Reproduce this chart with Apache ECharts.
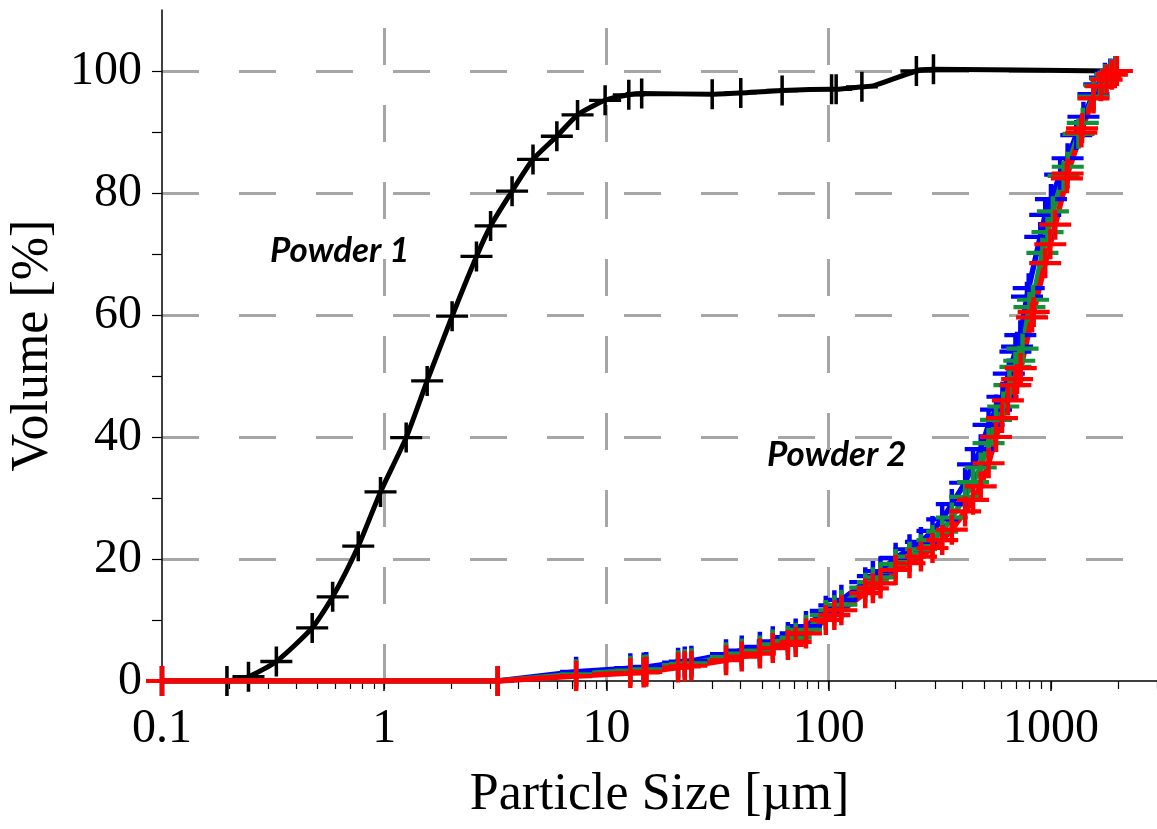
<!DOCTYPE html>
<html>
<head>
<meta charset="utf-8">
<script src="https://cdn.jsdelivr.net/npm/echarts@6/dist/echarts.min.js"></script>
<style>html,body{margin:0;padding:0;background:#fff}#c{width:1157px;height:829px}</style>
</head>
<body>
<div id="c"></div>
<script>
// ---- data (particle size in µm, cumulative volume in %) ----
const p1Size = [0.196,0.245,0.327,0.474,0.586,0.764,0.962,1.255,1.56,2.02,2.60,3.01,3.76,4.67,5.98,7.41,9.86,12.6,14.4,29.9,40.2,61.7,103,108,141,160,248,296,1850];
const p1Vol  = [0,0.7,3.2,8.7,13.8,22.1,31.0,39.9,49.2,59.8,69.6,74.6,80.3,85.5,89.3,92.8,95.2,96.1,96.3,96.2,96.4,96.8,97.0,97.0,97.4,97.6,100.0,100.3,100];
const p1NoMark = [160, 1850];

const p2BlueSize = [0.1,3.24,7.3,12.8,14.7,15.1,21,22.5,24.1,34.5,40.6,49,56,65.5,71,79,97,106,114,146,158,171,200,231,260,293,324,358,411,446,483,524,566,605,646,692,704,728,780,794,895,942,1000,1100,1188,1300,1400,1553,1650,1750,1850,1950];
const p2BlueVol  = [0,0,1.5,2.1,2.2,2.3,3.0,3.2,3.3,4.4,5.0,5.6,6.5,7.2,7.8,9.0,11.5,12.4,13.3,16.2,17.2,18.0,20.2,21.6,22.8,24.6,26.5,29.0,32.5,35.5,38.0,42.0,44.5,46.6,50.4,54.0,54.8,56.7,63.0,64.4,72.8,76.4,79.0,83.0,85.7,89.5,92.5,96.2,97.8,98.9,99.6,100];

const p2GreenSize = [0.1,3.24,7.3,12.8,14.7,15.1,21,22.5,24.1,34.5,40.6,49,56,65.5,71,79,97,106,114,146,158,171,200,231,260,293,324,358,411,446,483,524,566,610,650,692,720,745,800,830,915,965,1020,1140,1190,1330,1390,1553,1660,1760,1860,1960];
const p2GreenVol  = [0,0,1.1,1.7,1.8,1.9,2.6,2.8,2.9,3.9,4.5,5.0,6.0,6.6,7.1,8.4,10.8,11.6,12.5,15.3,16.2,17.0,19.2,20.4,21.6,23.1,24.5,26.8,30.2,32.6,35.0,39.0,42.8,45.0,48.5,51.5,52.5,54.5,61.3,62.5,70.2,73.6,77.0,82.8,84.3,89.7,91.5,95.8,97.6,98.7,99.5,100];

const p2RedSize = [0.1,3.24,7.3,12.8,14.7,15.1,21,22.5,24.1,34.5,40.6,49,56,65.5,71,79,97,106,114,146,158,171,200,231,260,293,324,358,411,446,483,524,566,602,640,692,704,731,822,836,942,993,1045,1180,1188,1370,1380,1553,1680,1780,1880,1980];
const p2RedVol  = [0,0,0.8,1.3,1.4,1.5,2.2,2.4,2.5,3.4,4.0,4.5,5.4,5.9,6.4,7.8,10.0,10.8,11.6,14.4,15.2,16.0,18.2,19.3,20.4,21.8,23.1,24.8,27.8,29.7,31.9,35.7,40.0,43.1,46.0,48.5,49.5,51.3,59.6,60.5,68.5,71.6,74.8,82.4,83.2,89.9,90.6,95.5,97.5,98.6,99.4,100];

const xMajorTicks = [0.1, 1, 10, 100, 1000];
const yLabelTicks = [0, 20, 40, 60, 80, 100];
const yMinorTicks = [0,10,20,30,40,50,60,70,80,90,100];
const xMinorTicks = [];
[0.1, 1, 10, 100, 1000].forEach(d => { for (let k = 1; k <= 9; k++) { const v = +(d * k).toPrecision(3); if (v <= 3000) xMinorTicks.push(v); } });

const serif = "'Liberation Serif','Times New Roman',serif";
const plusThin  = 'path://M44.5,0 H55.5 V44.5 H100 V55.5 H55.5 V100 H44.5 V55.5 H0 V44.5 H44.5 Z';
const plusThick = 'path://M43,0 H57 V43 H100 V57 H57 V100 H43 V57 H0 V43 H43 Z';

function pairs(xs, ys, noMark) {
  return xs.map((x, i) => (noMark && noMark.indexOf(x) >= 0) ? { value: [x, ys[i]], symbol: 'none' } : [x, ys[i]]);
}
function p2Series(name, xs, ys, color) {
  return {
    name, type: 'line', data: pairs(xs, ys), xAxisIndex: 0, yAxisIndex: 0,
    symbol: plusThick, symbolSize: [32, 30], showAllSymbol: true,
    lineStyle: { color, width: 5.5 }, itemStyle: { color, borderWidth: 0 },
    z: 5
  };
}

const chart = echarts.init(document.getElementById('c'), null, { renderer: 'canvas' });
chart.setOption({
  animation: false,
  backgroundColor: '#ffffff',
  grid: { left: 162, right: 0, top: 10, bottom: 148, containLabel: false, outerBoundsMode: 'none' },
  xAxis: [
    {
      type: 'log', logBase: 10, min: 0.1, max: 3000,
      name: 'Particle Size [µm]', nameLocation: 'middle', nameGap: 88,
      nameTextStyle: { fontFamily: serif, fontSize: 52, color: '#000' },
      axisLine: { show: true, onZero: false, lineStyle: { color: '#000', width: 1.5 } },
      axisTick: { show: true, inside: false, length: 10, customValues: xMajorTicks, lineStyle: { color: '#000', width: 1.5 } },
      axisLabel: { show: true, margin: 24, fontFamily: serif, fontSize: 48, color: '#000',
        customValues: xMajorTicks, formatter: v => String(+(+v).toPrecision(3)) },
      splitLine: { show: true, showMinLine: false, showMaxLine: false,
        lineStyle: { color: '#a6a6a6', width: 3, type: [37, 40], dashOffset: 59 } },
      minorTick: { show: false }, minorSplitLine: { show: false }
    },
    {
      type: 'log', logBase: 10, min: 0.1, max: 3000, position: 'bottom', gridIndex: 0,
      axisLine: { show: false },
      axisTick: { show: true, inside: false, length: 8, customValues: xMinorTicks, lineStyle: { color: '#000', width: 1.2 } },
      axisLabel: { show: false }, splitLine: { show: false }
    }
  ],
  yAxis: [
    {
      type: 'value', min: 0, max: 110, interval: 20,
      name: 'Volume [%]', nameLocation: 'middle', nameGap: 92,
      nameTextStyle: { fontFamily: serif, fontSize: 52, color: '#000' },
      axisLine: { show: true, onZero: false, lineStyle: { color: '#000', width: 1.5 } },
      axisTick: { show: false },
      axisLabel: { show: true, margin: 20, fontFamily: serif, fontSize: 48, color: '#000', customValues: yLabelTicks },
      splitLine: { show: true, showMinLine: false, showMaxLine: false,
        lineStyle: { color: '#a6a6a6', width: 3, type: [37, 40] } }
    },
    {
      type: 'value', min: 0, max: 110, position: 'left', gridIndex: 0,
      axisLine: { show: false },
      axisTick: { show: true, inside: false, length: 10, customValues: yMinorTicks, lineStyle: { color: '#000', width: 1.2 } },
      axisLabel: { show: false }, splitLine: { show: false }
    }
  ],
  series: [
    {
      name: 'Powder 1', type: 'line', data: pairs(p1Size, p1Vol, p1NoMark),
      symbol: plusThin, symbolSize: [32, 30], showAllSymbol: true, smooth: 0.2,
      lineStyle: { color: '#000', width: 5 }, itemStyle: { color: '#000', borderWidth: 0 }, z: 4
    },
    p2Series('Powder 2 (blue)', p2BlueSize, p2BlueVol, '#0000ff'),
    p2Series('Powder 2 (green)', p2GreenSize, p2GreenVol, '#11913a'),
    p2Series('Powder 2 (red)', p2RedSize, p2RedVol, '#ff0000')
  ],
  graphic: [
    { type: 'text', left: 270, top: 233, style: { text: 'Powder 1', font: "italic bold 35px Lato, 'Open Sans', sans-serif", fill: '#000' } },
    { type: 'text', left: 767, top: 437, style: { text: 'Powder 2', font: "italic bold 35px Lato, 'Open Sans', sans-serif", fill: '#000' } }
  ]
});
</script>
</body>
</html>
